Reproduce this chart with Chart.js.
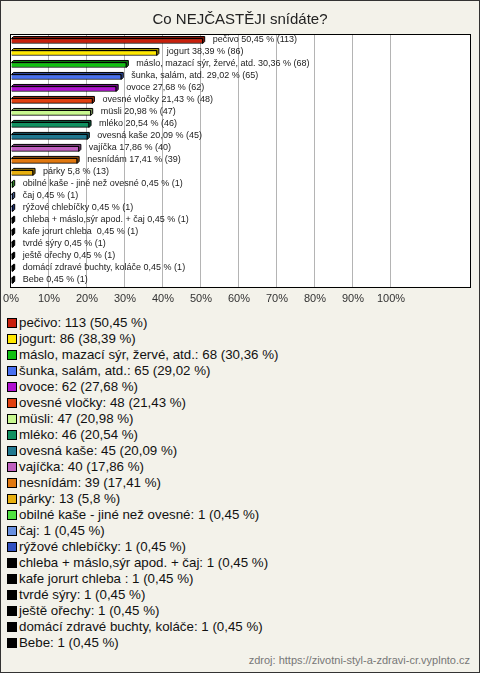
<!DOCTYPE html>
<html lang="cs">
<head>
<meta charset="utf-8">
<title>Co NEJČASTĚJI snídáte?</title>
<script src="https://cdn.jsdelivr.net/npm/chart.js@4"></script>
<style>
  body { margin: 0; background: #fff; font-family: "Liberation Sans", Arial, sans-serif; }
  #ramec { position: relative; width: 478px; height: 671px; border: 1px solid #333; background: #f3f2ea; overflow: hidden; }
  #titulek { position: absolute; left: 0; width: 478px; top: 9px; text-align: center; font-size: 15px; color: #222; }
  #graf { position: absolute; left: 0; top: 0; }
  #legenda { position: absolute; left: 6px; top: 314px; margin: 0; padding: 0; list-style: none; font-size: 13.3px; color: #111; }
  #legenda li { height: 16px; line-height: 16px; white-space: pre; }
  #legenda .ctverec { display: inline-block; width: 8px; height: 8px; border: 1px solid #000; margin-right: 2px; vertical-align: -1px; }
  #zdroj { position: absolute; right: 9px; top: 653px; font-size: 11px; color: #777; }
</style>
</head>
<body>
<div id="ramec">
  <canvas id="graf" width="478" height="312"></canvas>
  <div id="titulek">Co NEJČASTĚJI snídáte?</div>
  <ul id="legenda"></ul>
  <div id="zdroj">zdroj: https://zivotni-styl-a-zdravi-cr.vyplnto.cz</div>
</div>
<script>
// odpovědi, počty a podíly tak, jak jsou v obrázku
const kategorie = [
  'pečivo', 'jogurt', 'máslo, mazací sýr, žervé, atd.', 'šunka, salám, atd.', 'ovoce',
  'ovesné vločky', 'müsli', 'mléko', 'ovesná kaše', 'vajíčka', 'nesnídám', 'párky',
  'obilné kaše - jiné než ovesné', 'čaj', 'rýžové chlebíčky', 'chleba + máslo,sýr apod. + čaj',
  'kafe jorurt chleba ', 'tvrdé sýry', 'ještě ořechy', 'domácí zdravé buchty, koláče', 'Bebe',
];
const pocty = [113, 86, 68, 65, 62, 48, 47, 46, 45, 40, 39, 13, 1, 1, 1, 1, 1, 1, 1, 1, 1];
const procenta = [50.45, 38.39, 30.36, 29.02, 27.68, 21.43, 20.98, 20.54, 20.09, 17.86, 17.41, 5.8,
  0.45, 0.45, 0.45, 0.45, 0.45, 0.45, 0.45, 0.45, 0.45];
const barvy = [
  '#c8200c', '#ffe800', '#10c010', '#4870f0', '#b010d0', '#e04010', '#c8f890', '#109060',
  '#207890', '#c060c0', '#e07810', '#e8b010', '#50e040', '#6890e0', '#3050c0',
  '#000000', '#000000', '#000000', '#000000', '#000000', '#000000',
];
const osaTicks = [0, 10, 20, 30, 40, 50, 60, 70, 80, 90, 100];

const fmt = (n) => new Intl.NumberFormat('cs-CZ', { maximumFractionDigits: 2 }).format(n);
const font = 'Liberation Sans, Arial, sans-serif';

// ztmavení barvy pro "3D" hranu sloupce
function ztmav(hex, k) {
  const n = parseInt(hex.slice(1), 16);
  const r = Math.round(((n >> 16) & 255) * k);
  const g = Math.round(((n >> 8) & 255) * k);
  const b = Math.round((n & 255) * k);
  return `rgb(${r},${g},${b})`;
}

const plocha = {
  id: 'plocha',
  beforeDraw(chart) {
    const { ctx, chartArea: a } = chart;
    ctx.save();
    ctx.fillStyle = '#fff';
    ctx.fillRect(a.left, a.top, a.right - a.left, a.bottom - a.top);
    ctx.restore();
  },
  afterDraw(chart) {
    const { ctx, chartArea: a } = chart;
    ctx.save();
    ctx.strokeStyle = '#000';
    ctx.lineWidth = 1;
    ctx.strokeRect(Math.round(a.left) - 0.5, Math.round(a.top) - 0.5,
      Math.round(a.right - a.left) + 1, Math.round(a.bottom - a.top) + 1);
    ctx.restore();
  },
};

const prostor = {
  id: 'prostor',
  afterDatasetsDraw(chart) {
    const { ctx } = chart;
    const d = 2;
    chart.getDatasetMeta(0).data.forEach((el, i) => {
      const p = el.getProps(['x', 'y', 'base', 'height'], true);
      const top = p.y - p.height / 2;
      const bottom = p.y + p.height / 2;
      ctx.save();
      ctx.fillStyle = ztmav(barvy[i], 0.65);
      ctx.strokeStyle = '#000';
      ctx.lineWidth = 1;
      ctx.beginPath();
      ctx.moveTo(p.base, top);
      ctx.lineTo(p.base + d, top - d);
      ctx.lineTo(p.x + d, top - d);
      ctx.lineTo(p.x + d, bottom - d);
      ctx.lineTo(p.x, bottom);
      ctx.lineTo(p.x, top);
      ctx.closePath();
      ctx.fill();
      ctx.stroke();

      ctx.fillStyle = '#222';
      ctx.font = '9px ' + font;
      ctx.textBaseline = 'middle';
      ctx.fillText(`${kategorie[i]} ${fmt(procenta[i])} % (${pocty[i]})`, p.x + 10, p.y - 1);
      ctx.restore();
    });
  },
};

new Chart(document.getElementById('graf'), {
  type: 'bar',
  data: {
    labels: kategorie,
    datasets: [{
      data: procenta,
      backgroundColor: barvy,
      borderColor: '#000',
      borderWidth: 1,
      barThickness: 5,
    }],
  },
  options: {
    indexAxis: 'y',
    responsive: false,
    animation: false,
    layout: { padding: { left: 10, right: 9, top: 34, bottom: 5 } },
    plugins: { legend: { display: false }, tooltip: { enabled: false } },
    scales: {
      x: {
        min: 0,
        max: 120.8,
        afterBuildTicks: (s) => { s.ticks = osaTicks.map((v) => ({ value: v })); },
        grid: {
          color: (c) => (c.tick && c.tick.value > 0 ? '#b4b4b4' : 'rgba(0,0,0,0)'),
          drawTicks: true,
          tickLength: 4,
          tickColor: 'rgba(0,0,0,0)',
        },
        border: { display: false },
        ticks: {
          padding: 2,
          maxRotation: 0,
          color: '#333',
          font: { size: 11, family: font },
          callback: (v) => v + '%',
        },
      },
      y: { display: false },
    },
  },
  plugins: [plocha, prostor],
});

document.getElementById('legenda').innerHTML = kategorie
  .map((k, i) =>
    `<li><span class="ctverec" style="background:${barvy[i]}"></span>${k}: ${pocty[i]} (${fmt(procenta[i])} %)</li>`)
  .join('');
</script>
</body>
</html>
